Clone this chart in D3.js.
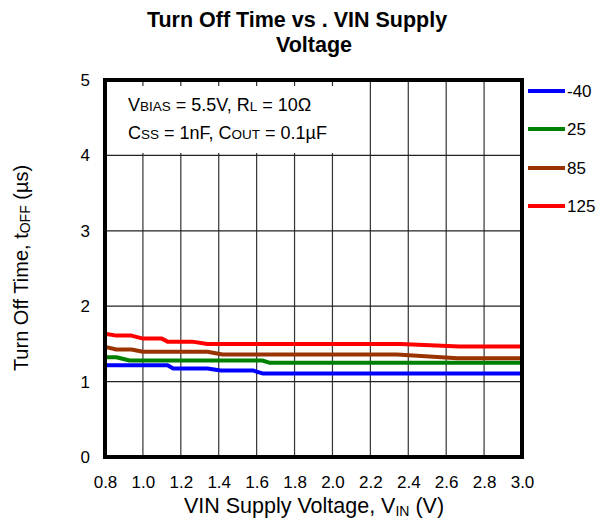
<!DOCTYPE html>
<html><head><meta charset="utf-8">
<script src="https://cdn.jsdelivr.net/npm/d3@7/dist/d3.min.js"></script>
<style>body{margin:0;background:#fff}svg{display:block}text{font-family:Arial,"Liberation Sans",sans-serif}</style>
</head><body>
<script>
const seriesNames = ["-40", "25", "85", "125"];
const seriesColors = ["#0000ff", "#008000", "#993300", "#ff0000"];
const xTicks = [0.8, 1.0, 1.2, 1.4, 1.6, 1.8, 2.0, 2.2, 2.4, 2.6, 2.8, 3.0];
const yTicks = [0, 1, 2, 3, 4, 5];
// [VIN, tOFF]
const sBlue = [[0.80,1.218],[1.13,1.218],[1.16,1.174],[1.34,1.174],[1.41,1.148],[1.58,1.148],[1.63,1.108],[3.0,1.108]];
const sGreen = [[0.80,1.323],[0.86,1.323],[0.93,1.28],[1.63,1.28],[1.67,1.249],[3.0,1.249]];
const sBrown = [[0.80,1.46],[0.86,1.425],[0.94,1.425],[1.00,1.395],[1.34,1.395],[1.42,1.36],[2.34,1.36],[2.66,1.31],[3.0,1.31]];
const sRed = [[0.80,1.635],[0.86,1.61],[0.94,1.61],[1.00,1.57],[1.10,1.57],[1.13,1.53],[1.26,1.53],[1.34,1.50],[2.36,1.50],[2.67,1.464],[3.0,1.464]];
const seriesData = [sBlue, sGreen, sBrown, sRed];

const W = 607, H = 524;
const svg = d3.select("body").append("svg").attr("width", W).attr("height", H);
const x = d3.scaleLinear().domain([0.8, 3.0]).range([105, 522]);
const y = d3.scaleLinear().domain([0, 5]).range([457, 80]);

// title
svg.append("text").attr("x", 297).attr("y", 27).attr("text-anchor", "middle")
  .attr("font-size", 21.5).attr("font-weight", "bold").text("Turn Off Time vs . VIN Supply");
svg.append("text").attr("x", 314).attr("y", 52).attr("text-anchor", "middle")
  .attr("font-size", 21.5).attr("font-weight", "bold").text("Voltage");

// grid
const grid = svg.append("g");
grid.selectAll(".vg").data(xTicks.slice(1, -1)).join("line")
  .attr("x1", d => x(d)).attr("x2", d => x(d)).attr("y1", y(5)).attr("y2", y(0))
  .attr("stroke", "#333").attr("stroke-width", 1.2);
grid.selectAll(".hg").data(yTicks.slice(1, -1)).join("line")
  .attr("x1", x(0.8)).attr("x2", x(3.0)).attr("y1", d => y(d)).attr("y2", d => y(d))
  .attr("stroke", "#222").attr("stroke-width", 1.2);

// annotation box
svg.append("rect").attr("x", 107).attr("y", 86).attr("width", 261).attr("height", 67).attr("fill", "#fff");
const a1 = svg.append("text").attr("x", 128).attr("y", 111).attr("font-size", 18);
a1.append("tspan").text("V");
a1.append("tspan").attr("font-size", 13.5).text("BIAS");
a1.append("tspan").text(" = 5.5V, R");
a1.append("tspan").attr("font-size", 13.5).text("L");
a1.append("tspan").text(" = 10Ω");
const a2 = svg.append("text").attr("x", 128).attr("y", 139).attr("font-size", 18);
a2.append("tspan").text("C");
a2.append("tspan").attr("font-size", 13.5).text("SS");
a2.append("tspan").text(" = 1nF, C");
a2.append("tspan").attr("font-size", 13.5).text("OUT");
a2.append("tspan").text(" = 0.1µF");

// lines
const line = d3.line().x(d => x(d[0])).y(d => y(d[1]));
svg.append("g").selectAll("path").data(seriesData).join("path")
  .attr("d", line).attr("fill", "none")
  .attr("stroke", (d, i) => seriesColors[i]).attr("stroke-width", 4).attr("stroke-linejoin", "round");

// frame
svg.append("rect").attr("x", x(0.8)).attr("y", y(5)).attr("width", x(3.0) - x(0.8)).attr("height", y(0) - y(5))
  .attr("fill", "none").attr("stroke", "#000").attr("stroke-width", 4);

// axes
const xAxis = d3.axisBottom(x).tickValues(xTicks).tickFormat(d3.format(".1f")).tickSize(0).tickPadding(19);
const gx = svg.append("g").attr("transform", `translate(0,${y(0)})`).call(xAxis);
gx.select(".domain").remove();
gx.selectAll("text").attr("font-size", 17).attr("font-family", "Arial, Liberation Sans").attr("fill", "#000");
const yAxis = d3.axisLeft(y).tickValues(yTicks).tickFormat(d3.format("d")).tickSize(0).tickPadding(15);
const gy = svg.append("g").attr("transform", `translate(${x(0.8)},0)`).call(yAxis);
gy.select(".domain").remove();
gy.selectAll("text").attr("font-size", 17).attr("font-family", "Arial, Liberation Sans").attr("fill", "#000");

// axis titles
const xt = svg.append("text").attr("x", 314).attr("y", 513).attr("text-anchor", "middle").attr("font-size", 21.5);
xt.append("tspan").text("VIN Supply Voltage, V");
xt.append("tspan").attr("font-size", 14).attr("dy", 3).text("IN");
xt.append("tspan").attr("dy", -3).text(" (V)");
const yt = svg.append("text").attr("transform", "translate(28,268) rotate(-90)").attr("text-anchor", "middle").attr("font-size", 20);
yt.append("tspan").text("Turn Off Time, t");
yt.append("tspan").attr("font-size", 14).attr("dy", 2).text("OFF");
yt.append("tspan").attr("dy", -2).text(" (µs)");

// legend
const lg = svg.append("g").selectAll("g").data(seriesNames).join("g")
  .attr("transform", (d, i) => `translate(528,${[91, 129, 168, 206][i]})`);
lg.append("line").attr("x1", 0).attr("x2", 37).attr("stroke", (d, i) => seriesColors[i]).attr("stroke-width", 4);
lg.append("text").attr("x", 39).attr("dy", "0.35em").attr("font-size", 17).text(d => d);
</script>
</body></html>
